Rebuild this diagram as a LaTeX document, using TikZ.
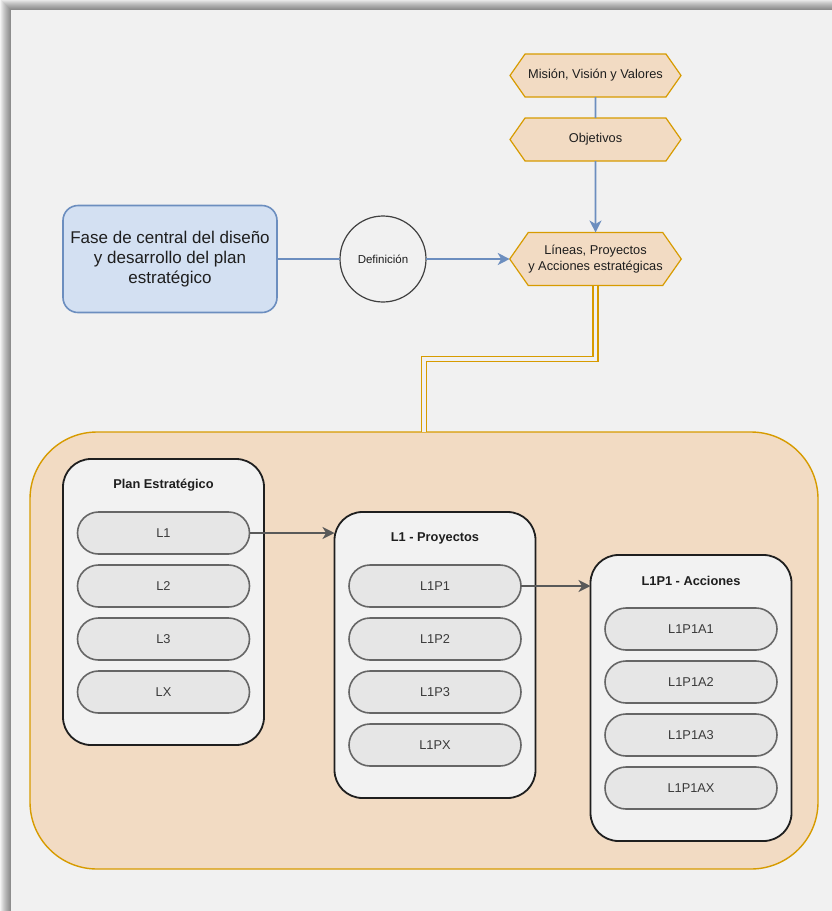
\documentclass[tikz,border=0pt]{standalone}
\usepackage{fontspec}
\setmainfont{Liberation Sans}
\usetikzlibrary{shapes.symbols,calc,arrows.meta}

\definecolor{pagebg}{HTML}{F1F1F1}
\definecolor{outerbg}{HTML}{F4F4F4}
\definecolor{peach}{HTML}{F2DBC3}
\definecolor{gold}{HTML}{D79B00}
\definecolor{bluefill}{HTML}{D3E0F2}
\definecolor{bluedraw}{HTML}{6C8EBF}
\definecolor{panelfill}{HTML}{F2F2F2}
\definecolor{paneldraw}{HTML}{1F1F1F}
\definecolor{pillfill}{HTML}{E6E6E6}
\definecolor{pilldraw}{HTML}{666666}
\definecolor{arrowgray}{HTML}{595959}
\definecolor{txt}{HTML}{1E1E1E}
\definecolor{pilltxt}{HTML}{3A3A3A}

\tikzset{
  basefont/.style={font=\fontsize{12.8pt}{15.4pt}\selectfont},
  hexbox/.style={shape=signal, signal to=east and west, signal pointer angle=110,
    fill=peach, draw=gold, line width=1.2pt, minimum width=171pt, minimum height=43pt,
    inner sep=0pt, outer sep=0pt, basefont, text=txt, align=center},
  fasebox/.style={rectangle, rounded corners=15pt, fill=bluefill, draw=bluedraw,
    line width=1.6pt, minimum width=214pt, minimum height=107pt, align=center,
    font=\fontsize{17pt}{20.2pt}\selectfont, text=txt, outer sep=0pt},
  defcircle/.style={circle, draw=black!75, line width=1.2pt, minimum size=86pt,
    inner sep=0pt, font=\fontsize{11.5pt}{14pt}\selectfont, text=txt, outer sep=0pt},
  groupbox/.style={rectangle, rounded corners=67pt, fill=peach, draw=gold,
    line width=1.4pt, minimum width=788pt, minimum height=437pt, outer sep=0pt},
  panel/.style={rectangle, rounded corners=28pt, fill=panelfill, draw=paneldraw,
    line width=1.8pt, minimum width=201pt, minimum height=286pt, outer sep=0pt},
  paneltitle/.style={font=\bfseries\fontsize{12.8pt}{15.4pt}\selectfont, text=txt, inner sep=0pt},
  pill/.style={rectangle, rounded corners=21pt, fill=pillfill, draw=pilldraw,
    line width=1.6pt, minimum width=172pt, minimum height=42pt, outer sep=0pt,
    basefont, text=pilltxt},
  blueline/.style={draw=bluedraw, line width=1.6pt},
  bluearrow/.style={blueline, -{Stealth[length=12pt,width=12pt,inset=3.5pt]}},
  grayarrow/.style={draw=arrowgray, line width=1.6pt, -{Stealth[length=12pt,width=12pt,inset=3.5pt]}},
  goldlink/.style={draw=gold, line width=1.5pt, double=pagebg, double distance=3.5pt}
}

\begin{document}
\begin{tikzpicture}[x=1pt,y=-1pt]
\useasboundingbox (0,0) rectangle (832,911);

% sheet with a soft shadow along its top and left edges
\fill[outerbg] (0,0) rectangle (832,911);
\foreach \i in {1,...,10}{
  \fill[black, opacity=0.05] (11-\i,10-\i) rectangle (832,911);
}
\fill[pagebg] (11,10) rectangle (832,911);

% upper part: strategic definition flow
\node[hexbox] (mvv) at (595.5,75.5) {Misión, Visión y Valores};
\node[hexbox] (obj) at (595.5,139.5) {Objetivos};
\node[hexbox, minimum height=53pt] (lin) at (595.5,259) {Líneas, Proyectos\\y Acciones estratégicas};
\node[fasebox] (fase) at (170,259) {Fase de central del diseño\\y desarrollo del plan\\estratégico};
\node[defcircle] (def) at (383,259) {Definición};

\draw[blueline] (mvv) -- (obj);
\draw[bluearrow] (obj) -- (lin);
\draw[blueline] (fase.east) -- (def.west);
\draw[bluearrow] (def.east) -- (lin.west);

% lower part: plan breakdown
\node[groupbox] (grp) at (424,650.5) {};

\coordinate (mid) at ($(lin.south)!0.5!(grp.north)$);
\draw[goldlink] (lin.south) -- (lin.south |- mid) -- (grp.north |- mid) -- (grp.north);

\node[panel] (plan) at (163.5,602) {};
\node[paneltitle] (plant) at ([yshift=-26pt]plan.north) {Plan Estratégico};
\node[pill] (l1) at ([yshift=-74pt]plan.north) {L1};
\node[pill] (l2) at ([yshift=-127pt]plan.north) {L2};
\node[pill] (l3) at ([yshift=-180pt]plan.north) {L3};
\node[pill] (lx) at ([yshift=-233pt]plan.north) {LX};

\node[panel] (proy) at (435,655) {};
\node[paneltitle] (proyt) at ([yshift=-26pt]proy.north) {L1 - Proyectos};
\node[pill] (p1) at ([yshift=-74pt]proy.north) {L1P1};
\node[pill] (p2) at ([yshift=-127pt]proy.north) {L1P2};
\node[pill] (p3) at ([yshift=-180pt]proy.north) {L1P3};
\node[pill] (px) at ([yshift=-233pt]proy.north) {L1PX};

\node[panel] (acc) at (691,698) {};
\node[paneltitle] (acct) at ([yshift=-26pt]acc.north) {L1P1 - Acciones};
\node[pill] (a1) at ([yshift=-74pt]acc.north) {L1P1A1};
\node[pill] (a2) at ([yshift=-127pt]acc.north) {L1P1A2};
\node[pill] (a3) at ([yshift=-180pt]acc.north) {L1P1A3};
\node[pill] (ax) at ([yshift=-233pt]acc.north) {L1P1AX};

\draw[grayarrow] (l1.east) -- (l1 -| proy.west);
\draw[grayarrow] (p1.east) -- (p1 -| acc.west);
\end{tikzpicture}
\end{document}
